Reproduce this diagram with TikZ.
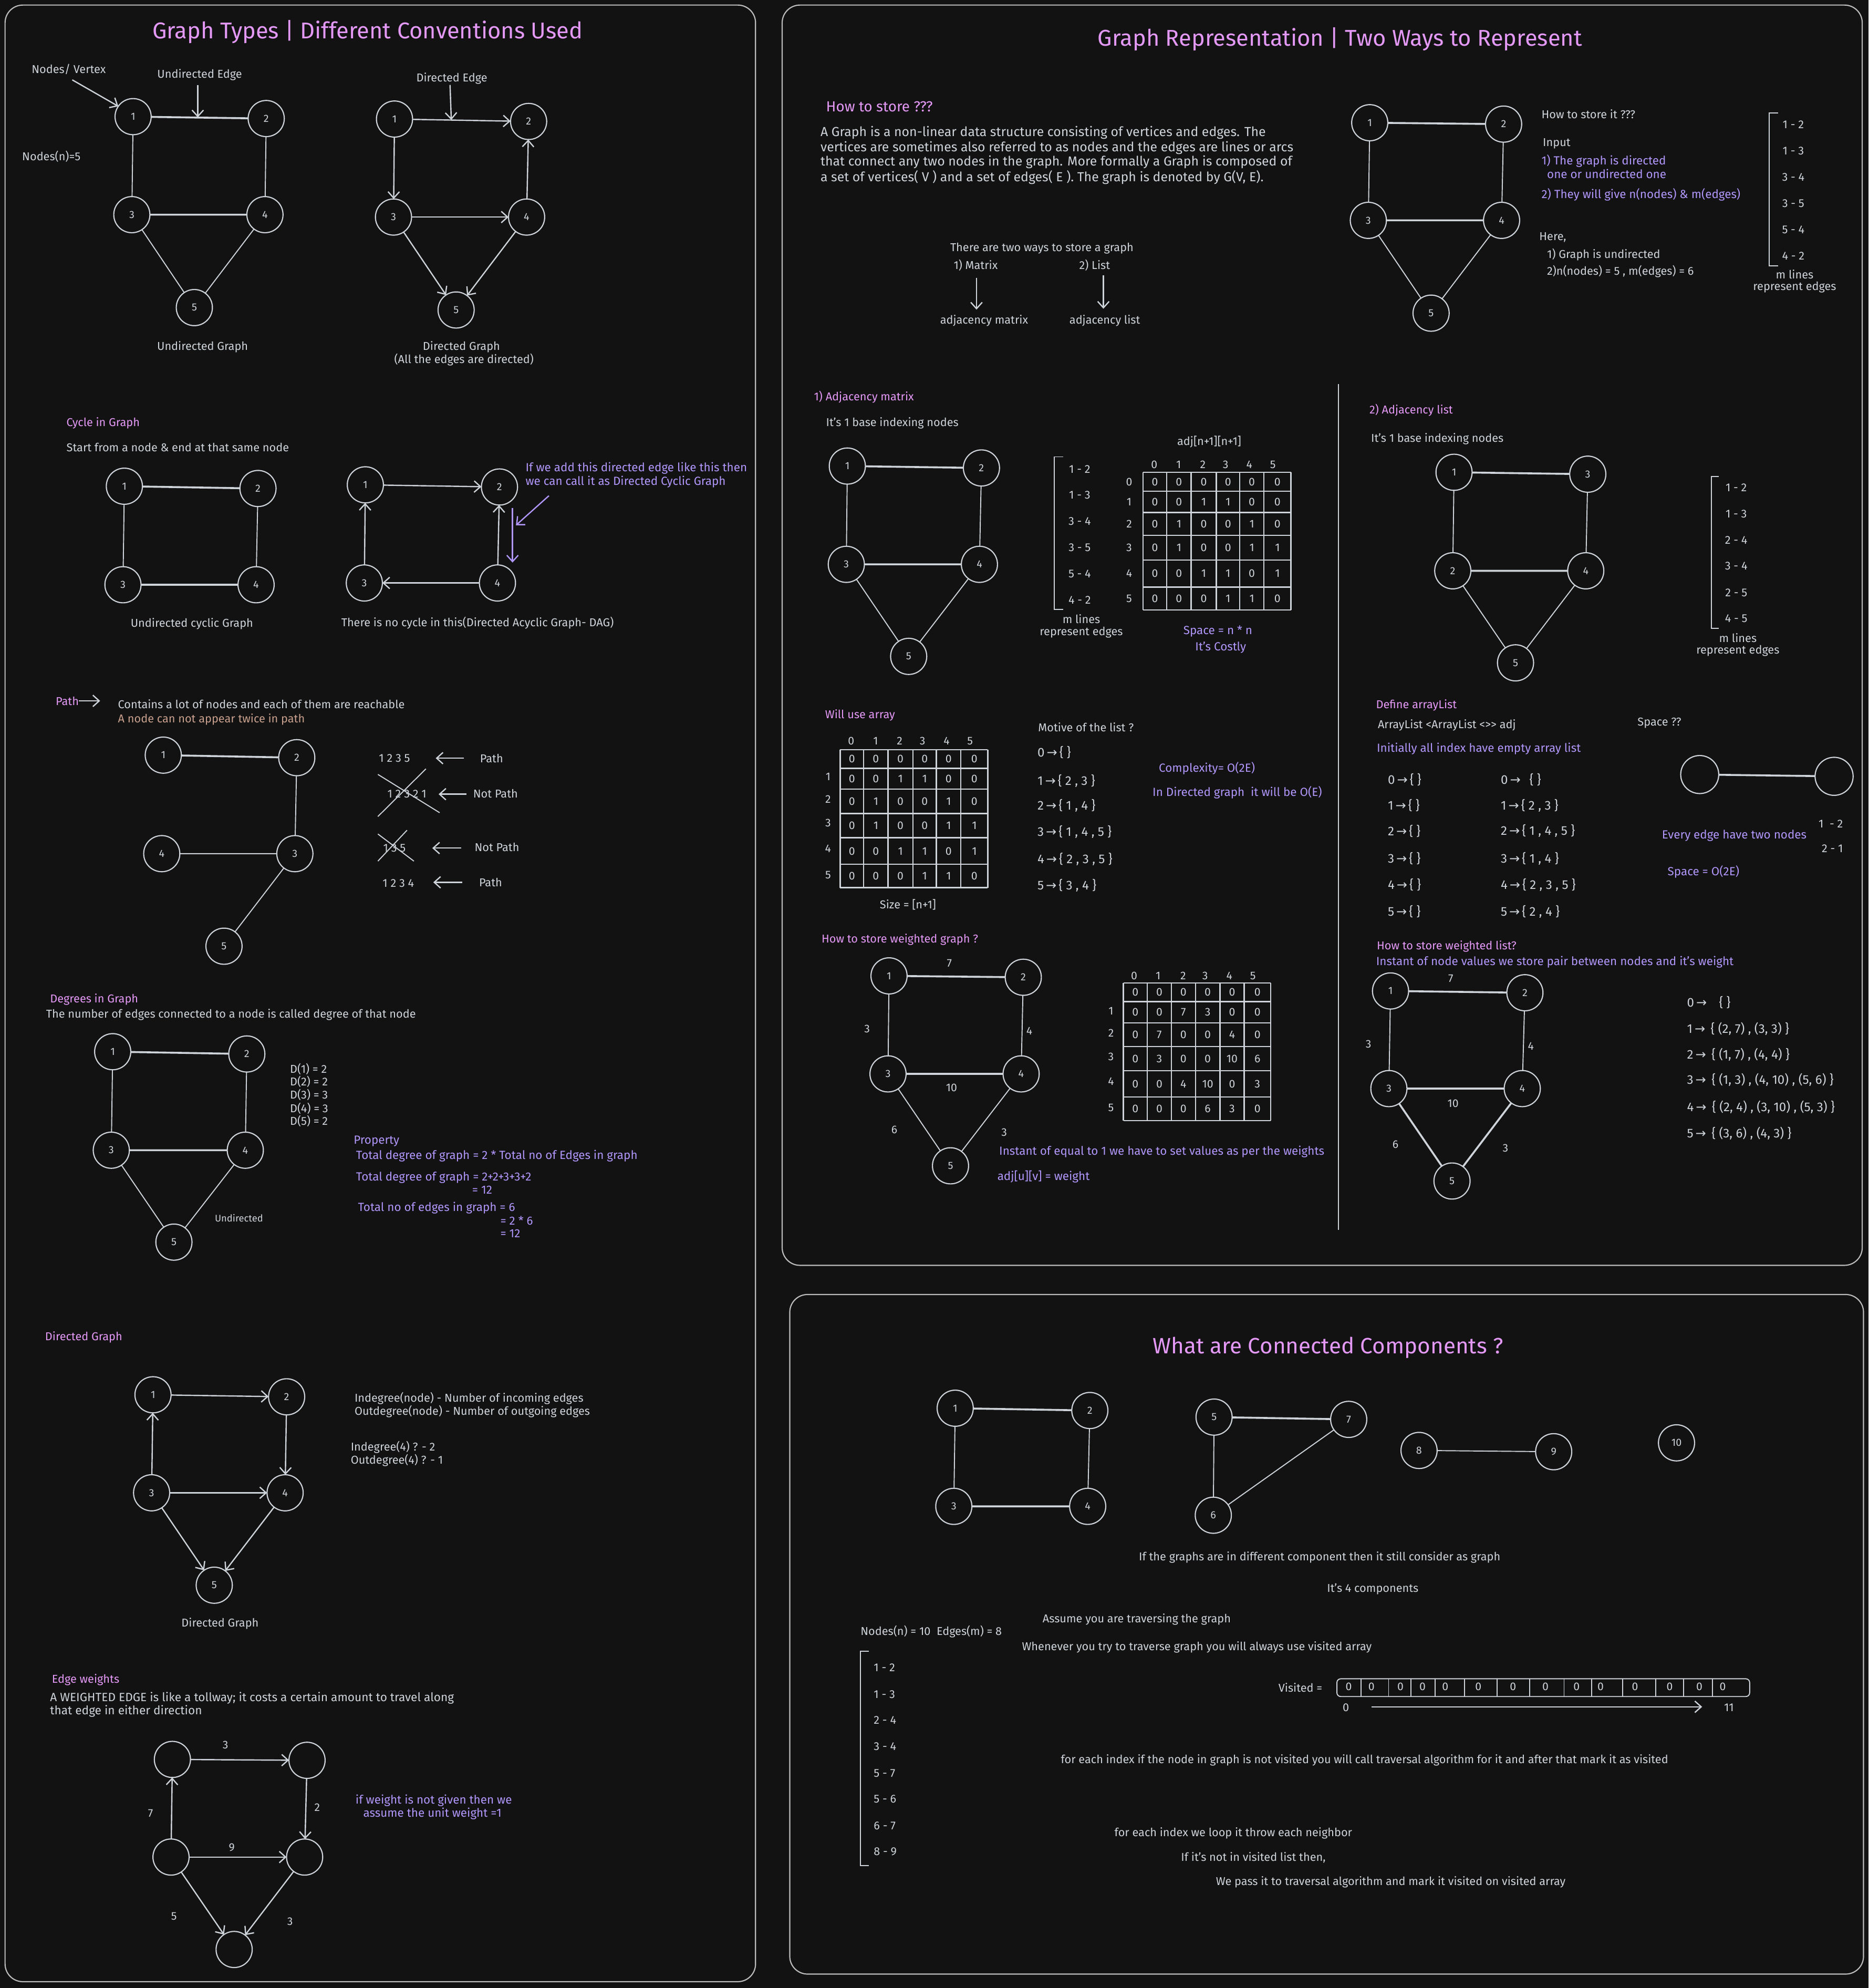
\documentclass[tikz,border=0pt]{standalone}
\usepackage{fontspec}
\setmainfont{Fira Sans}
\newfontfamily\symfont{DejaVu Sans}
\usetikzlibrary{arrows.meta}
\definecolor{bg}{HTML}{121212}
\definecolor{ln}{HTML}{CED4DA}
\definecolor{frm}{HTML}{BDBDBD}
\definecolor{mag}{HTML}{E599F7}
\definecolor{pur}{HTML}{B197FC}
\definecolor{tan}{HTML}{C9A08E}
\newcommand{\rarr}{\,{\symfont →}\,}
\begin{document}
\begin{tikzpicture}[x=1pt,y=-1pt,
  every node/.style={inner sep=0pt, outer sep=0pt, text=ln, font=\fontsize{9}{11}\selectfont},
  gnode/.style={circle, draw=ln, line width=0.9pt, minimum size=28.5pt, font=\fontsize{8.2}{9.8}\selectfont},
  eth/.style={draw=ln, line width=0.8pt},
  ebd/.style={draw=ln, line width=1.5pt},
  arr/.style={draw=ln, line width=1pt, -{Straight Barb[length=5pt,width=9pt]}},
  parr/.style={draw=pur, line width=1pt, -{Straight Barb[length=5pt,width=9pt]}},
  panel/.style={draw=frm, line width=0.9pt, rounded corners=14pt},
  mgrid/.style={draw=ln, line width=1pt},
  ttl/.style={text=mag, font=\fontsize{18}{21}\selectfont},
  hd/.style={text=mag, anchor=west},
  lt/.style={anchor=west},
  pl/.style={text=pur, anchor=west, font=\fontsize{9.3}{11}\selectfont},
  big/.style={font=\fontsize{10.3}{12}\selectfont},
  sm/.style={font=\fontsize{7.6}{9}\selectfont},
  dg/.style={font=\fontsize{8.8}{10}\selectfont},
  lst/.style={anchor=west, font=\fontsize{10}{12}\selectfont},
]
\fill[bg] (0,0) rectangle (1474,1568);
\useasboundingbox (0,0) rectangle (1474,1568);

% ================= left panel: graph types =================
\draw[panel] (4,4) rectangle (596,1563);
\node[ttl] (ttlA) at (290,25) {Graph Types | Different Conventions Used};

% undirected graph
\node[gnode] (u1) at (105,92) {1};
\node[gnode] (u2) at (210,93.5) {2};
\node[gnode] (u3) at (104,169.3) {3};
\node[gnode] (u4) at (209,169.3) {4};
\node[gnode] (u5) at (153.3,242.6) {5};
\draw[ebd] (u1) -- (u2) (u3) -- (u4);
\draw[eth] (u1) -- (u3) (u2) -- (u4) (u3) -- (u5) (u4) -- (u5);
\node[lt] (nvLbl) at (25,54.6) {Nodes/ Vertex};
\coordinate (nvTail) at (57,63);
\draw[arr] (nvTail) -- (u1.145);
\node (ueLbl) at (157.5,58.8) {Undirected Edge};
\coordinate (ueTail) at (156,67);
\coordinate (ueHead) at (156,92.6);
\draw[arr] (ueTail) -- (ueHead);
\node[lt] (nCount) at (17.5,123.4) {Nodes(n)=5};

% directed graph
\node[gnode] (d1) at (311.2,93.9) {1};
\node[gnode] (d2) at (417,95.8) {2};
\node[gnode] (d3) at (310.4,171.2) {3};
\node[gnode] (d4) at (415.4,171.2) {4};
\node[gnode] (d5) at (359.8,244.5) {5};
\draw[arr] (d1) -- (d2);
\draw[arr] (d1) -- (d3);
\draw[arr] (d4) -- (d2);
\draw[arr] (d3) -- (d4);
\draw[arr] (d3) -- (d5);
\draw[arr] (d4) -- (d5);
\node (deLbl) at (356.4,62) {Directed Edge};
\coordinate (deTail) at (355,67);
\coordinate (deHead) at (356,94.6);
\draw[arr] (deTail) -- (deHead);
\node (ugCap) at (159.8,273.8) {Undirected Graph};
\node (dgCap) at (364,273.8) {Directed Graph};
\node (dgCap2) at (366,283.5) {(All the edges are directed)};

% cycles
\node[hd] (cycHd) at (52.5,333.7) {Cycle in Graph};
\node[lt] (cycTx) at (52.5,352.7) {Start from a node \& end at that same node};
\node[gnode] (c1) at (98.1,383.5) {1};
\node[gnode] (c2) at (203.5,385.3) {2};
\node[gnode] (c3) at (97,461.2) {3};
\node[gnode] (c4) at (202,461.2) {4};
\draw[ebd] (c1) -- (c2) (c3) -- (c4);
\draw[eth] (c1) -- (c3) (c2) -- (c4);
\node (ucCap) at (151.4,492) {Undirected cyclic Graph};
\node[gnode] (e1) at (288.2,382.4) {1};
\node[gnode] (e2) at (394,384.1) {2};
\node[gnode] (e3) at (287.4,459.8) {3};
\node[gnode] (e4) at (392.4,459.8) {4};
\draw[arr] (e1) -- (e2);
\draw[arr] (e3) -- (e1);
\draw[arr] (e4) -- (e2);
\draw[arr] (e4) -- (e3);
\coordinate (pA1) at (433,391);
\coordinate (pA2) at (407,414.3);
\draw[parr] (pA1) -- (pA2);
\coordinate (pB1) at (404.3,400.5);
\coordinate (pB2) at (404.3,443.7);
\draw[parr] (pB1) -- (pB2);
\node[pl] (dcN1) at (414.6,369.4) {If we add this directed edge like this then};
\node[pl] (dcN2) at (414.6,380) {we can call it as Directed Cyclic Graph};
\node (dagCap) at (376.7,491.5) {There is no cycle in this(Directed Acyclic Graph- DAG)};

% path
\node[hd] (pathHd) at (44,552.8) {Path};
\coordinate (pathH) at (79,552.8);
\draw[arr] (pathHd.east) -- (pathH);
\node[lt] (pathTx1) at (93.1,555.4) {Contains a lot of nodes and each of them are reachable};
\node[lt, text=tan] (pathTx2) at (93.1,567.4) {A node can not appear twice in path};
\node[gnode] (p1) at (128.8,595.6) {1};
\node[gnode] (p2) at (234.1,597.6) {2};
\node[gnode] (p4) at (127.6,673.3) {4};
\node[gnode] (p3) at (232.6,673.3) {3};
\node[gnode] (p5) at (176.7,746.3) {5};
\draw[ebd] (p1) -- (p2);
\draw[eth] (p2) -- (p3) (p4) -- (p3) (p3) -- (p5);
\node (sq1) at (311.2,598.2) {1 2 3 5};
\node (sq2) at (321,626.4) {1 2 3 2 1};
\node (sq3) at (311.2,668.9) {1 3 5};
\node (sq4) at (314.2,696.8) {1 2 3 4};
\node (pv1) at (387.8,598) {Path};
\node (pv2) at (390.9,625.8) {Not Path};
\node (pv3) at (392,668) {Not Path};
\node (pv4) at (387,695.9) {Path};
\foreach \i/\xa/\xb/\yy in {1/366/343.7/598, 2/367.9/346/626.4, 3/364/341/668.9, 4/364.8/341.8/695.9} {
  \coordinate (pt\i) at (\xa,\yy);
  \coordinate (ph\i) at (\xb,\yy);
  \draw[arr] (pt\i) -- (ph\i);
}
\draw[eth] (298.1,610.8) -- (346.8,641) (298.1,644) -- (336,606.4);
\draw[eth] (298.1,657.8) -- (326.5,679.2) (298.1,679.2) -- (321.1,654.8);

% degrees
\node[hd] (degHd) at (39.5,788.1) {Degrees in Graph};
\node[lt] (degTx) at (36.4,800.2) {The number of edges connected to a node is called degree of that node};
\node[gnode] (g1) at (88.9,829.5) {1};
\node[gnode] (g2) at (194.7,831.3) {2};
\node[gnode] (g3) at (87.8,907.2) {3};
\node[gnode] (g4) at (193.5,907.2) {4};
\node[gnode] (g5) at (137.2,979.7) {5};
\draw[ebd] (g1) -- (g2) (g3) -- (g4);
\draw[eth] (g1) -- (g3) (g2) -- (g4) (g3) -- (g5) (g4) -- (g5);
\node[sm] (undLbl) at (188.5,960.7) {Undirected};
\foreach \k/\v/\yy in {1/2/843, 2/2/853.3, 3/3/863.7, 4/3/874.1, 5/2/884.4}
  \node[lt] (deg\k) at (228.8,\yy) {D(\k) = \v};
\node[pl] (prHd) at (279,900.1) {Property};
\node[pl] (pr1) at (280.9,911.8) {Total degree of graph = 2 * Total no of Edges in graph};
\node[pl] (pr2) at (280.9,928.6) {Total degree of graph = 2+2+3+3+2};
\node[pl] (pr3) at (372.5,938.6) {= 12};
\node[pl] (pr4) at (282.4,952.6) {Total no of edges in graph = 6};
\node[pl] (pr5) at (394.7,962.6) {= 2 * 6};
\node[pl] (pr6) at (394.7,972.9) {= 12};

% directed graph, degrees
\node[hd] (dirHd) at (35.6,1054.9) {Directed Graph};
\node[gnode] (h1) at (120.7,1100.1) {1};
\node[gnode] (h2) at (226.1,1101.7) {2};
\node[gnode] (h3) at (119.6,1177.4) {3};
\node[gnode] (h4) at (224.9,1177.4) {4};
\node[gnode] (h5) at (169,1250.3) {5};
\draw[arr] (h1) -- (h2);
\draw[arr] (h2) -- (h4);
\draw[arr] (h3) -- (h1);
\draw[arr] (h3) -- (h4);
\draw[arr] (h3) -- (h5);
\draw[arr] (h4) -- (h5);
\node (dirCap) at (173.6,1280.5) {Directed Graph};
\node[lt] (inD) at (279.7,1102.8) {Indegree(node) - Number of incoming edges};
\node[lt] (outD) at (279.7,1113.3) {Outdegree(node) - Number of outgoing edges};
\node[lt] (inD4) at (276.7,1141.4) {Indegree(4) ? - 2};
\node[lt] (outD4) at (276.7,1151.9) {Outdegree(4) ? - 1};

% edge weights
\node[hd] (ewHd) at (41,1325) {Edge weights};
\node[lt, font=\fontsize{9.4}{11}\selectfont] (ewTx1) at (39.5,1339.2) {A WEIGHTED EDGE is like a tollway; it costs a certain amount to travel along};
\node[lt, font=\fontsize{9.4}{11}\selectfont] (ewTx2) at (39.5,1349.7) {that edge in either direction};
\node[gnode] (w1) at (136,1387.7) {};
\node[gnode] (w2) at (242.2,1388.4) {};
\node[gnode] (w3) at (134.9,1464.7) {};
\node[gnode] (w4) at (240.3,1464.7) {};
\node[gnode] (w5) at (184.7,1537.6) {};
\draw[arr] (w1) -- (w2);
\draw[arr] (w2) -- (w4);
\draw[arr] (w3) -- (w1);
\draw[arr] (w3) -- (w4);
\draw[arr] (w3) -- (w5);
\draw[arr] (w4) -- (w5);
\node[dg] (wl1) at (177.8,1376.2) {3};
\node[dg] (wl2) at (250.2,1425.7) {2};
\node[dg] (wl3) at (118.8,1430.1) {7};
\node[dg] (wl4) at (182.8,1457.2) {9};
\node[dg] (wl5) at (137.2,1511.5) {5};
\node[dg] (wl6) at (228.8,1515.6) {3};
\node[pl] (wn1) at (280.5,1420.3) {if weight is not given then we};
\node[pl] (wn2) at (286.6,1430.4) {assume the unit weight =1};

% ================= right panel: representation =================
\draw[panel] (617,4) rectangle (1469,998);
\node[ttl] (ttlB) at (1057,31) {Graph Representation | Two Ways to Represent};
\node[hd, font=\fontsize{11.5}{13}\selectfont] (htsHd) at (651.7,84.2) {How to store ???};
\node[lt, big] (para1) at (647.3,104.6) {A Graph is a non-linear data structure consisting of vertices and edges. The};
\node[lt, big] (para2) at (647.3,116.5) {vertices are sometimes also referred to as nodes and the edges are lines or arcs};
\node[lt, big] (para3) at (647.3,128) {that connect any two nodes in the graph. More formally a Graph is composed of};
\node[lt, big] (para4) at (647.3,139.9) {a set of vertices( V ) and a set of edges( E ). The graph is denoted by G(V, E).};
\node[lt] (twoW) at (749.6,195.9) {There are two ways to store a graph};
\node[lt] (wMat) at (752.3,209.2) {1) Matrix};
\node[lt] (wLst) at (851.4,209.2) {2) List};
\node (amLbl) at (776.3,253) {adjacency matrix};
\node (alLbl) at (871.5,253) {adjacency list};
\coordinate (amT) at (770.3,219);
\coordinate (amH) at (770.3,244.2);
\coordinate (alT) at (870.4,217);
\coordinate (alH) at (870.4,243.5);
\draw[arr] (amT) -- (amH);
\draw[arr] (alT) -- (alH);

\node[gnode] (r1) at (1080.5,96.8) {1};
\node[gnode] (r2) at (1186.1,97.9) {2};
\node[gnode] (r3) at (1079.4,173.8) {3};
\node[gnode] (r4) at (1184.5,173.8) {4};
\node[gnode] (r5) at (1128.9,247) {5};
\draw[ebd] (r1) -- (r2) (r3) -- (r4);
\draw[eth] (r1) -- (r3) (r2) -- (r4) (r3) -- (r5) (r4) -- (r5);
\node[lt] (hsi) at (1216,89.8) {How to store it ???};
\node[lt] (inpH) at (1217.1,113.3) {Input};
\node[pl] (inp1) at (1216,126.9) {1) The graph is directed};
\node[pl] (inp1b) at (1220.4,137.1) {one or undirected one};
\node[pl] (inp2) at (1216,153.6) {2) They will give n(nodes) \& m(edges)};
\node[lt] (hereH) at (1214.3,187.1) {Here,};
\node[lt] (here1) at (1220.4,200.8) {1) Graph is undirected};
\node[lt] (here2) at (1220.4,214.1) {2)n(nodes) = 5 , m(edges) = 6};
\draw[eth] (1402.6,89.2) -- (1395.6,89.2) -- (1395.6,209.6) -- (1402.6,209.6);
\foreach \t/\yy [count=\i] in {1 - 2/98.3, 1 - 3/118.9, 3 - 4/139.9, 3 - 5/160.6, 5 - 4/181.2, 4 - 2/201.8}
  \node (rl\i) at (1414.6,\yy) {\t};
\node (rlm) at (1415.7,216.2) {m lines};
\node (rlr) at (1415.7,226.7) {represent edges};

\draw[eth] (1056,303) -- (1056,970);

% adjacency matrix
\node[hd] (amHd) at (642.1,313.1) {1) Adjacency matrix};
\node[lt] (amIdx) at (651.7,333.9) {It's 1 base indexing nodes};
\node[gnode] (a1) at (668.4,367.6) {1};
\node[gnode] (a2) at (774.2,369.1) {2};
\node[gnode] (a3) at (667.6,445.1) {3};
\node[gnode] (a4) at (772.6,445.1) {4};
\node[gnode] (a5) at (716.8,517.7) {5};
\draw[ebd] (a1) -- (a2) (a3) -- (a4);
\draw[eth] (a1) -- (a3) (a2) -- (a4) (a3) -- (a5) (a4) -- (a5);
\draw[eth] (838.5,360.3) -- (831.6,360.3) -- (831.6,480.5) -- (838.5,480.5);
\foreach \t/\yy [count=\i] in {1 - 2/370, 1 - 3/390.5, 3 - 4/411, 3 - 5/431.9, 5 - 4/452.4, 4 - 2/473.2}
  \node (al\i) at (851.7,\yy) {\t};
\node (alm) at (853,488) {m lines};
\node (alr) at (853,498.6) {represent edges};
\node (adjSz) at (953.9,348.3) {adj[n+1][n+1]};
\foreach \x in {901.7,920.3,939.6,959.4,978,997,1018.4} \draw[mgrid] (\x,372.5) -- (\x,481);
\foreach \yy in {372.5,387.4,404.3,422.3,441.8,463,481} \draw[mgrid] (901.7,\yy) -- (1018.4,\yy);
\foreach \cc/\x in {0/910.5,1/929.7,2/948.9,3/966.8,4/985.5,5/1004.1} \node[dg] (mAc\cc) at (\x,366.6) {\cc};
\foreach \r/\yy/\va/\vb/\vc/\vd/\ve/\vf in {0/380/0/0/0/0/0/0, 1/395.9/0/0/1/1/0/0, 2/413.3/0/1/0/0/1/0, 3/432/0/1/0/0/1/1, 4/452.4/0/0/1/1/0/1, 5/472/0/0/0/1/1/0} {
  \node[dg] (mAr\r) at (890.7,\yy) {\r};
  \node[dg] (mA\r-0) at (911,\yy) {\va};
  \node[dg] (mA\r-1) at (930,\yy) {\vb};
  \node[dg] (mA\r-2) at (949.5,\yy) {\vc};
  \node[dg] (mA\r-3) at (968.7,\yy) {\vd};
  \node[dg] (mA\r-4) at (987.5,\yy) {\ve};
  \node[dg] (mA\r-5) at (1007.7,\yy) {\vf};
}
\node[text=pur, font=\fontsize{9.3}{11}\selectfont] (spA) at (960.7,498.1) {Space = n * n};
\node[text=pur, font=\fontsize{9.3}{11}\selectfont] (spB) at (962.9,510.6) {It's Costly};

% adjacency list
\node[hd] (alHd) at (1080.3,323.4) {2) Adjacency list};
\node[lt] (alIdx) at (1081.6,346.2) {It's 1 base indexing nodes};
\node[gnode] (b1) at (1147,372.5) {1};
\node[gnode] (b3) at (1252.5,374) {3};
\node[gnode] (b2) at (1146,450.2) {2};
\node[gnode] (b4) at (1250.9,450.2) {4};
\node[gnode] (b5) at (1195.5,522.8) {5};
\draw[ebd] (b1) -- (b3) (b2) -- (b4);
\draw[eth] (b1) -- (b2) (b3) -- (b4) (b2) -- (b5) (b4) -- (b5);
\draw[eth] (1355.9,375.9) -- (1350,375.9) -- (1350,495.4) -- (1355.9,495.4);
\foreach \t/\yy [count=\i] in {1 - 2/384.6, 1 - 3/405.2, 2 - 4/426, 3 - 4/446.5, 2 - 5/467.4, 4 - 5/488}
  \node (bl\i) at (1369.6,\yy) {\t};
\node (blm) at (1370.9,503) {m lines};
\node (blr) at (1370.9,513.2) {represent edges};

% array of size n+1
\node[hd] (uaHd) at (650.9,564.3) {Will use array};
\foreach \x in {662.7,681.2,700.5,720.1,738.6,757.9,779.2} \draw[mgrid] (\x,591.2) -- (\x,700.1);
\foreach \yy in {591.2,606.1,622.5,641.6,660.8,681.7,700.1} \draw[mgrid] (662.7,\yy) -- (779.2,\yy);
\foreach \cc/\x in {0/671.4,1/690.7,2/709.7,3/727.7,4/746.7,5/765.2} \node[dg] (mBc\cc) at (\x,584.5) {\cc};
\foreach \r/\yy/\va/\vb/\vc/\vd/\ve/\vf in {0/598.7/0/0/0/0/0/0, 1/614.3/0/0/1/1/0/0, 2/632/0/1/0/0/1/0, 3/651.2/0/1/0/0/1/1, 4/671.3/0/0/1/1/0/1, 5/690.9/0/0/0/1/1/0} {
  \node[dg] (mB\r-0) at (672,\yy) {\va};
  \node[dg] (mB\r-1) at (690.9,\yy) {\vb};
  \node[dg] (mB\r-2) at (710.3,\yy) {\vc};
  \node[dg] (mB\r-3) at (729.4,\yy) {\vd};
  \node[dg] (mB\r-4) at (748.3,\yy) {\ve};
  \node[dg] (mB\r-5) at (768.6,\yy) {\vf};
}
\foreach \r/\yy in {1/612.6,2/630.4,3/649.2,4/669.4,5/690.1} \node[dg] (mBr\r) at (653.2,\yy) {\r};
\node (uaSz) at (716.2,713.3) {Size = [n+1]};
\node[lt] (motHd) at (819,573.6) {Motive of the list ?};
\foreach \t/\yy [count=\i] in {{0\rarr\{ \}}/593.5, {1\rarr\{\ 2\ ,\ 3\ \}}/615.8, {2\rarr\{\ 1\ ,\ 4\ \}}/635.3, {3\rarr\{\ 1\ ,\ 4\ ,\ 5\ \}}/656.2, {4\rarr\{\ 2\ ,\ 3\ ,\ 5\ \}}/677.8, {5\rarr\{\ 3\ ,\ 4\ \}}/698.4}
  \node[lst] (mot\i) at (818.4,\yy) {\t};
\node[pl] (cx1) at (914.2,606.1) {Complexity= O(2E)};
\node[pl] (cx2) at (909.2,624.9) {In Directed graph \ it will be O(E)};

% array list definition
\node[hd] (dfHd) at (1085.5,556.3) {Define arrayList};
\node[lt] (dfTx) at (1086.9,571.9) {ArrayList <ArrayList <>{}> adj};
\node[pl] (dfIn) at (1086.1,590.7) {Initially all index have empty array list};
\node[lt] (spQ) at (1291.8,570.3) {Space ??};
\foreach \k/\yy in {0/614.8,1/635.3,2/655.5,3/677.1,4/698,5/718.9}
  \node[lst] (ea\k) at (1094.8,\yy) {\k\rarr\{ \}};
\foreach \t/\yy [count=\i] in {{0\rarr\ \ \{ \}}/614.8, {1\rarr\{\ 2\ ,\ 3\ \}}/635.3, {2\rarr\{\ 1\ ,\ 4\ ,\ 5\ \}}/655.5, {3\rarr\{\ 1\ ,\ 4\ \}}/677.1, {4\rarr\{\ 2\ ,\ 3\ ,\ 5\ \}}/698, {5\rarr\{\ 2\ ,\ 4\ \}}/718.9}
  \node[lst] (fa\i) at (1183.9,\yy) {\t};
\node[gnode, minimum size=30pt] (sL) at (1340.8,610.9) {};
\node[gnode, minimum size=30pt] (sR) at (1446.8,612.3) {};
\draw[ebd] (sL) -- (sR);
\node (sp12) at (1444.2,649.9) {1 \ - 2};
\node (sp21) at (1445.5,669.2) {2 - 1};
\node[pl] (evE) at (1311,659) {Every edge have two nodes};
\node[pl] (sp2E) at (1315.5,687.5) {Space = O(2E)};

% weighted graph, matrix form
\node[hd] (wgHd) at (648.1,741) {How to store weighted graph ?};
\node[gnode] (x1) at (701.3,769.7) {1};
\node[gnode] (x2) at (807.2,770.8) {2};
\node[gnode] (x3) at (700.5,847) {3};
\node[gnode] (x4) at (805.5,847) {4};
\node[gnode] (x5) at (749.8,919.5) {5};
\draw[ebd] (x1) -- (x2) (x3) -- (x4);
\draw[eth] (x1) -- (x3) (x2) -- (x4) (x3) -- (x5) (x4) -- (x5);
\node[dg] (xw1) at (748.9,759.9) {7};
\node[dg] (xw2) at (684,811.4) {3};
\node[dg] (xw3) at (812,813.1) {4};
\node[dg] (xw4) at (750.6,857.9) {10};
\node[dg] (xw5) at (705.5,890.9) {6};
\node[dg] (xw6) at (792.1,893) {3};
\foreach \x in {886.2,905,924,943,962.4,981.4,1002.4} \draw[mgrid] (\x,775.3) -- (\x,883.8);
\foreach \yy in {775.3,790,806.8,825.4,844.6,865.2,883.8} \draw[mgrid] (886.2,\yy) -- (1002.4,\yy);
\foreach \cc/\x in {0/894.6,1/913.6,2/933.3,3/950.6,4/969.7,5/988.4} \node[dg] (mCc\cc) at (\x,769.7) {\cc};
\foreach \r/\yy/\va/\vb/\vc/\vd/\ve/\vf in {0/782.7/0/0/0/0/0/0, 1/798.4/0/0/7/3/0/0, 2/816.1/0/7/0/0/4/0, 3/835/0/3/0/0/10/6, 4/854.9/0/0/4/10/0/3, 5/874.5/0/0/0/6/3/0} {
  \node[dg] (mC\r-0) at (895.6,\yy) {\va};
  \node[dg] (mC\r-1) at (914.5,\yy) {\vb};
  \node[dg] (mC\r-2) at (933.5,\yy) {\vc};
  \node[dg] (mC\r-3) at (952.7,\yy) {\vd};
  \node[dg] (mC\r-4) at (971.9,\yy) {\ve};
  \node[dg] (mC\r-5) at (991.9,\yy) {\vf};
}
\foreach \r/\yy in {1/797.4,2/814.8,3/833.4,4/853,5/873.6} \node[dg] (mCr\r) at (876.4,\yy) {\r};
\node[pl] (wgN1) at (788.2,908.4) {Instant of equal to 1 we have to set values as per the weights};
\node[pl] (wgN2) at (786.8,928) {adj[u][v] = weight};

% weighted graph, list form
\node[hd] (wlHd) at (1086.1,746.6) {How to store weighted list?};
\node[pl] (wlN) at (1085.6,758.8) {Instant of node values we store pair between nodes and it's weight};
\node[gnode] (y1) at (1096.9,781.6) {1};
\node[gnode] (y2) at (1202.9,783) {2};
\node[gnode] (y3) at (1095.6,858.6) {3};
\node[gnode] (y4) at (1200.8,858.6) {4};
\node[gnode] (y5) at (1145.4,931.5) {5};
\draw[ebd] (y1) -- (y2) (y3) -- (y4) (y3) -- (y5) (y4) -- (y5);
\draw[eth] (y1) -- (y3) (y2) -- (y4);
\node[dg] (yw1) at (1144.4,771.8) {7};
\node[dg] (yw2) at (1079.5,823.6) {3};
\node[dg] (yw3) at (1207.6,825) {4};
\node[dg] (yw4) at (1146.2,870.5) {10};
\node[dg] (yw5) at (1100.8,902.5) {6};
\node[dg] (yw6) at (1187.6,905.5) {3};
\foreach \t/\yy [count=\i] in {{0\rarr\ \ \ \{ \}}/790.7, {1\rarr\ \{ (2,\ 7) ,\ (3,\ 3) \}}/811.4, {2\rarr\ \{ (1,\ 7) ,\ (4,\ 4) \}}/831.7, {3\rarr\ \{ (1,\ 3) ,\ (4,\ 10) ,\ (5,\ 6) \}}/851.6, {4\rarr\ \{ (2,\ 4) ,\ (3,\ 10) ,\ (5,\ 3) \}}/873.3, {5\rarr\ \{ (3,\ 6) ,\ (4,\ 3) \}}/894.1}
  \node[lst] (wlt\i) at (1330.8,\yy) {\t};

% ================= bottom right panel: connected components =================
\draw[panel] (623,1021) rectangle (1470,1557);
\node[ttl, font=\fontsize{17.5}{21}\selectfont] (ttlC) at (1047.5,1062.8) {What are Connected Components ?};
\node[gnode] (k1) at (753.5,1110.7) {1};
\node[gnode] (k2) at (859.7,1112.5) {2};
\node[gnode] (k3) at (752.4,1188.1) {3};
\node[gnode] (k4) at (858,1188.1) {4};
\node[gnode] (k5) at (957.7,1117.7) {5};
\node[gnode] (k7) at (1063.9,1119.5) {7};
\node[gnode] (k6) at (957.1,1195.1) {6};
\node[gnode] (k8) at (1119.4,1144) {8};
\node[gnode] (k9) at (1225.6,1145) {9};
\node[gnode] (k10) at (1322.5,1138) {10};
\draw[ebd] (k1) -- (k2) (k3) -- (k4) (k5) -- (k7);
\draw[eth] (k1) -- (k3) (k2) -- (k4) (k5) -- (k6) (k6) -- (k7) (k8) -- (k9);
\node (ccN1) at (1041,1228.3) {If the graphs are in different component then it still consider as graph};
\node (ccN2) at (1082.9,1253.5) {It's 4 components};
\node (ccN3) at (896.7,1277.3) {Assume you are traversing the graph};
\node[lt] (ccNM) at (678.9,1286.7) {Nodes(n) = 10 \ Edges(m) = 8};
\node (ccN4) at (944.1,1299) {Whenever you try to traverse graph you will always use visited array};
\draw[eth] (685.4,1302.4) -- (678.9,1302.4) -- (678.9,1471.4) -- (685.4,1471.4);
\foreach \t/\yy [count=\i] in {1 - 2/1315.4, 1 - 3/1336.4, 2 - 4/1356.7, 3 - 4/1377.6, 5 - 7/1398.6, 5 - 6/1418.9, 6 - 7/1439.9, 8 - 9/1460.5}
  \node[lt] (cl\i) at (689.3,\yy) {\t};
\node (visLbl) at (1025.8,1331.1) {Visited =};
\draw[eth, rounded corners=3pt] (1054.6,1324.1) rectangle (1380.2,1338.1);
\foreach \x in {1073.7,1095.4,1112.9,1131.9,1155.3,1180.9,1206.5,1233.8,1255.5,1280,1306.2,1328,1350.8}
  \draw[eth] (\x,1324.1) -- (\x,1338.1);
\foreach \x [count=\i] in {1063.9,1081.8,1104.7,1122.1,1140.1,1166.2,1193.5,1219.1,1243.6,1262.6,1289.8,1317.1,1340.5,1359}
  \node[dg] (vz\i) at (\x,1330.4) {0};
\node (z0) at (1061.7,1346.9) {0};
\node (z11) at (1363.9,1346.9) {11};
\coordinate (zT) at (1081.8,1346.2);
\coordinate (zH) at (1342.7,1346.2);
\draw[arr] (zT) -- (zH);
\node (ccN5) at (1076.4,1388.1) {for each index if the node in graph is not visited you will call traversal algorithm for it and after that mark it as visited};
\node (ccN6) at (972.9,1445.8) {for each index we loop it throw each neighbor};
\node (ccN7) at (988.7,1465.1) {If it's not in visited list then,};
\node (ccN8) at (1097.1,1484.3) {We pass it to traversal algorithm and mark it visited on visited array};
\end{tikzpicture}
\end{document}
